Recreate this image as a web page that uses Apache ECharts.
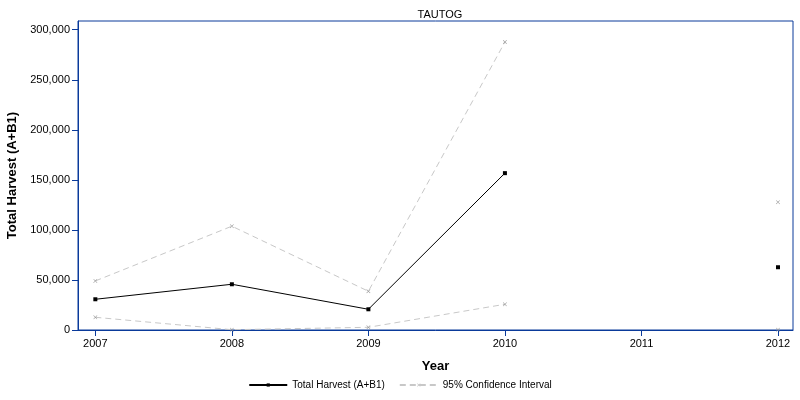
<!DOCTYPE html>
<html><head><meta charset="utf-8">
<script src="https://cdn.jsdelivr.net/npm/echarts@6/dist/echarts.min.js"></script>
<style>html,body{margin:0;padding:0;background:#fff}#c{width:800px;height:400px}</style>
</head><body><div id="c"></div>
<script>
const years = [2007, 2008, 2009, 2010, 2011, 2012];
const totalHarvest = [30700, 45700, 20700, 156700, null, 62700];
const upperCI = [49000, 103700, 38700, 287700, null, 127700];
const lowerCI = [12700, 300, 2700, 25700, null, 300];
const yTicks = [0, 50000, 100000, 150000, 200000, 250000, 300000];
const xTicks = [2007, 2008, 2009, 2010, 2011, 2012];

const axisBlue = '#0a3a9a';
const font = 'Liberation Sans, Arial, sans-serif';
const xMark = 'path://M0,1L1,0L5,4L9,0L10,1L6,5L10,9L9,10L5,6L1,10L0,9L4,5Z';
const pair = (arr) => years.map((y, i) => [y, arr[i]]);

const chart = echarts.init(document.getElementById('c'), null, {renderer: 'canvas'});
chart.setOption({
  animation: false,
  backgroundColor: '#fff',
  title: {text: 'TAUTOG', left: 435, top: 4, textAlign: 'center',
    textStyle: {fontFamily: font, fontSize: 11, fontWeight: 'normal', color: '#000'}},
  grid: {left: 78, right: 7, top: 21, bottom: 70, show: true, borderColor: axisBlue, borderWidth: 1,
    containLabel: false, outerBoundsMode: 'none'},
  xAxis: {
    type: 'value', min: 2006.873, max: 2012.11,
    name: 'Year', nameLocation: 'middle', nameGap: 30,
    nameTextStyle: {fontFamily: font, fontSize: 13, fontWeight: 'bold', color: '#000'},
    axisLine: {lineStyle: {color: axisBlue}},
    axisTick: {show: true, length: 6, lineStyle: {color: axisBlue}, customValues: xTicks},
    axisLabel: {customValues: xTicks, fontFamily: font, fontSize: 11, color: '#000', margin: 8,
      formatter: v => String(v)},
    splitLine: {show: false}
  },
  yAxis: {
    type: 'value', min: 0, max: 308700,
    name: 'Total Harvest (A+B1)', nameLocation: 'middle', nameGap: 58, nameRotate: 90,
    nameTextStyle: {fontFamily: font, fontSize: 13, fontWeight: 'bold', color: '#000'},
    axisLine: {show: true, lineStyle: {color: axisBlue}},
    axisTick: {show: true, length: 6, lineStyle: {color: axisBlue}, customValues: yTicks},
    axisLabel: {customValues: yTicks, fontFamily: font, fontSize: 11, color: '#000', margin: 8,
      formatter: v => v.toLocaleString('en-US')},
    splitLine: {show: false}
  },
  legend: {
    bottom: 5, left: 'center', itemWidth: 38, itemHeight: 4, itemGap: 14,
    textStyle: {fontFamily: font, fontSize: 10, color: '#000'},
    data: ['Total Harvest (A+B1)', '95% Confidence Interval']
  },
  series: [
    {name: '95% Confidence Interval', type: 'line', data: pair(upperCI), connectNulls: false,
      symbol: xMark, symbolSize: 4, itemStyle: {color: '#999'},
      lineStyle: {color: '#c8c8c8', width: 1, type: [6, 4]}},
    {name: '95% Confidence Interval', type: 'line', data: pair(lowerCI), connectNulls: false,
      symbol: xMark, symbolSize: 4, itemStyle: {color: '#999'},
      lineStyle: {color: '#c8c8c8', width: 1, type: [6, 4]}},
    {name: 'Total Harvest (A+B1)', type: 'line', data: pair(totalHarvest), connectNulls: false,
      symbol: 'rect', symbolSize: 4, itemStyle: {color: '#000'},
      lineStyle: {color: '#000', width: 1}}
  ]
});
</script></body></html>
